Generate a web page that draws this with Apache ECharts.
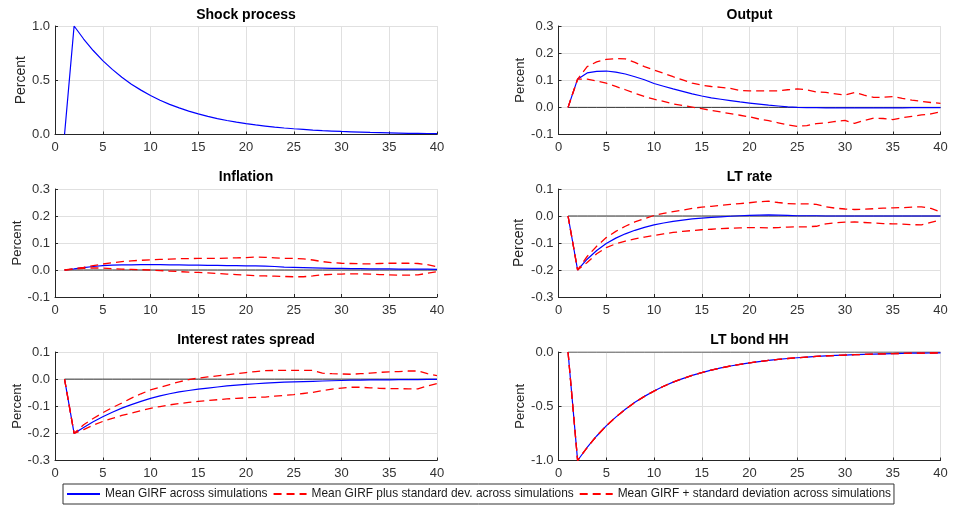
<!DOCTYPE html>
<html>
<head>
<meta charset="utf-8">
<script src="https://cdn.jsdelivr.net/npm/echarts@6/dist/echarts.min.js"></script>
<style>
  html, body { margin: 0; padding: 0; background: #ffffff; }
  #chart { width: 953px; height: 508px; }
</style>
</head>
<body>
<div id="chart"></div>
<script>
// Horizon (quarters after the shock)
const periods = [1,2,3,4,5,6,7,8,9,10,11,12,13,14,15,16,17,18,19,20,21,22,23,24,25,26,27,28,29,30,31,32,33,34,35,36,37,38,39,40];

// Shock process
const shockMean = [0, 1.000, 0.880, 0.774, 0.681, 0.600, 0.528, 0.464, 0.409, 0.360, 0.316, 0.278, 0.245, 0.216, 0.190, 0.167, 0.147, 0.129, 0.114, 0.100, 0.088, 0.078, 0.068, 0.060, 0.053, 0.047, 0.041, 0.036, 0.032, 0.028, 0.025, 0.022, 0.019, 0.017, 0.015, 0.013, 0.011, 0.010, 0.009, 0.008];

// Output
const outputMean  = [0, 0.104, 0.127, 0.133, 0.134, 0.130, 0.123, 0.113, 0.102, 0.088, 0.078, 0.068, 0.059, 0.050, 0.042, 0.035, 0.030, 0.025, 0.020, 0.016, 0.012, 0.008, 0.005, 0.002, 0.000, -0.001, -0.001, -0.002, -0.002, -0.002, -0.002, -0.002, -0.002, -0.002, -0.002, -0.002, -0.001, -0.001, -0.001, -0.001];
const outputUpper = [0, 0.104, 0.150, 0.168, 0.177, 0.180, 0.179, 0.166, 0.150, 0.138, 0.126, 0.113, 0.101, 0.089, 0.082, 0.077, 0.074, 0.070, 0.062, 0.061, 0.061, 0.061, 0.061, 0.065, 0.068, 0.065, 0.057, 0.055, 0.050, 0.045, 0.055, 0.045, 0.037, 0.037, 0.040, 0.033, 0.027, 0.022, 0.018, 0.015];
const outputLower = [0, 0.104, 0.104, 0.097, 0.089, 0.077, 0.065, 0.052, 0.040, 0.030, 0.022, 0.013, 0.007, 0.001, -0.005, -0.011, -0.017, -0.023, -0.029, -0.035, -0.043, -0.049, -0.057, -0.065, -0.070, -0.067, -0.060, -0.057, -0.052, -0.048, -0.059, -0.048, -0.040, -0.041, -0.045, -0.038, -0.033, -0.028, -0.024, -0.016];

// Inflation
const inflationMean  = [0, 0.004, 0.009, 0.013, 0.016, 0.018, 0.019, 0.019, 0.020, 0.020, 0.020, 0.019, 0.019, 0.018, 0.018, 0.017, 0.017, 0.016, 0.016, 0.015, 0.015, 0.014, 0.013, 0.011, 0.010, 0.009, 0.008, 0.007, 0.006, 0.006, 0.005, 0.005, 0.004, 0.004, 0.004, 0.003, 0.003, 0.003, 0.003, 0.002];
const inflationUpper = [0, 0.005, 0.010, 0.016, 0.022, 0.027, 0.031, 0.034, 0.036, 0.038, 0.039, 0.040, 0.042, 0.042, 0.043, 0.043, 0.043, 0.044, 0.045, 0.046, 0.048, 0.047, 0.045, 0.043, 0.043, 0.041, 0.037, 0.031, 0.027, 0.025, 0.024, 0.023, 0.023, 0.024, 0.025, 0.025, 0.025, 0.024, 0.020, 0.012];
const inflationLower = [0, 0.003, 0.006, 0.008, 0.007, 0.005, 0.003, 0.002, 0.001, 0.000, -0.002, -0.004, -0.006, -0.008, -0.009, -0.011, -0.013, -0.015, -0.017, -0.019, -0.021, -0.022, -0.023, -0.024, -0.025, -0.025, -0.022, -0.018, -0.016, -0.015, -0.014, -0.014, -0.015, -0.017, -0.018, -0.019, -0.019, -0.018, -0.012, -0.006];

// LT rate
const ltRateMean  = [0, -0.200, -0.160, -0.128, -0.102, -0.082, -0.066, -0.053, -0.042, -0.033, -0.026, -0.020, -0.015, -0.011, -0.008, -0.005, -0.003, -0.001, 0.001, 0.002, 0.003, 0.004, 0.003, 0.002, 0.001, 0.001, 0.001, 0.000, 0.000, 0.000, 0.000, 0.000, 0.000, 0.000, 0.000, 0.000, 0.000, 0.000, 0.000, 0.000];
const ltRateUpper = [0, -0.200, -0.150, -0.112, -0.080, -0.057, -0.038, -0.022, -0.010, 0.002, 0.010, 0.016, 0.022, 0.028, 0.033, 0.036, 0.039, 0.043, 0.046, 0.049, 0.053, 0.055, 0.050, 0.046, 0.045, 0.045, 0.043, 0.034, 0.029, 0.026, 0.024, 0.025, 0.027, 0.029, 0.030, 0.031, 0.033, 0.034, 0.028, 0.015];
const ltRateLower = [0, -0.200, -0.172, -0.140, -0.117, -0.103, -0.093, -0.085, -0.078, -0.072, -0.066, -0.061, -0.057, -0.054, -0.051, -0.049, -0.047, -0.045, -0.044, -0.043, -0.043, -0.044, -0.043, -0.041, -0.040, -0.040, -0.038, -0.029, -0.025, -0.023, -0.022, -0.024, -0.026, -0.028, -0.029, -0.030, -0.032, -0.033, -0.024, -0.015];

// Interest rates spread
const spreadMean  = [0, -0.200, -0.178, -0.157, -0.139, -0.122, -0.107, -0.094, -0.082, -0.071, -0.062, -0.054, -0.047, -0.042, -0.037, -0.033, -0.029, -0.025, -0.022, -0.019, -0.017, -0.015, -0.013, -0.011, -0.010, -0.009, -0.008, -0.007, -0.006, -0.005, -0.004, -0.004, -0.003, -0.003, -0.003, -0.002, -0.002, -0.002, -0.001, -0.001];
const spreadUpper = [0, -0.200, -0.168, -0.145, -0.124, -0.105, -0.088, -0.070, -0.054, -0.040, -0.030, -0.020, -0.010, -0.002, 0.004, 0.008, 0.012, 0.016, 0.020, 0.024, 0.028, 0.031, 0.032, 0.032, 0.032, 0.032, 0.032, 0.022, 0.020, 0.019, 0.018, 0.020, 0.022, 0.025, 0.027, 0.028, 0.030, 0.030, 0.020, 0.013];
const spreadLower = [0, -0.200, -0.186, -0.170, -0.156, -0.145, -0.134, -0.125, -0.116, -0.108, -0.101, -0.095, -0.090, -0.086, -0.082, -0.079, -0.076, -0.073, -0.071, -0.069, -0.067, -0.066, -0.063, -0.060, -0.057, -0.053, -0.049, -0.042, -0.037, -0.033, -0.030, -0.030, -0.032, -0.034, -0.035, -0.035, -0.036, -0.036, -0.025, -0.016];

// LT bond HH
const bondMean  = [0, -1.000, -0.880, -0.774, -0.681, -0.600, -0.528, -0.464, -0.409, -0.360, -0.316, -0.278, -0.245, -0.216, -0.190, -0.167, -0.147, -0.129, -0.114, -0.100, -0.088, -0.078, -0.068, -0.060, -0.053, -0.047, -0.041, -0.036, -0.032, -0.028, -0.025, -0.022, -0.019, -0.017, -0.015, -0.013, -0.011, -0.010, -0.009, -0.008];
const bondUpper = [0, -1.000, -0.880, -0.774, -0.681, -0.600, -0.528, -0.464, -0.409, -0.360, -0.316, -0.278, -0.245, -0.216, -0.190, -0.167, -0.147, -0.129, -0.114, -0.100, -0.088, -0.078, -0.068, -0.060, -0.053, -0.047, -0.041, -0.036, -0.032, -0.028, -0.025, -0.022, -0.019, -0.017, -0.015, -0.013, -0.011, -0.010, -0.009, -0.008];
const bondLower = [0, -1.000, -0.880, -0.774, -0.681, -0.600, -0.528, -0.464, -0.409, -0.360, -0.316, -0.278, -0.245, -0.216, -0.190, -0.167, -0.147, -0.129, -0.114, -0.100, -0.088, -0.078, -0.068, -0.060, -0.053, -0.047, -0.041, -0.036, -0.032, -0.028, -0.025, -0.022, -0.019, -0.017, -0.015, -0.013, -0.011, -0.010, -0.009, -0.008];

// Axis ticks
const xTicks = { min: 0, max: 40, interval: 5 };

const meanName  = 'Mean GIRF across simulations';
const upperName = 'Mean GIRF plus standard dev. across simulations';
const lowerName = 'Mean GIRF + standard deviation across simulations';

// Panel definitions: title, data, y-range
const panels = [
  { title: 'Shock process',         mean: shockMean,     upper: null,           lower: null,           yMin: 0,    yMax: 1,   yStep: 0.5, zero: false },
  { title: 'Output',                mean: outputMean,    upper: outputUpper,    lower: outputLower,    yMin: -0.1, yMax: 0.3, yStep: 0.1, zero: true },
  { title: 'Inflation',             mean: inflationMean, upper: inflationUpper, lower: inflationLower, yMin: -0.1, yMax: 0.3, yStep: 0.1, zero: true },
  { title: 'LT rate',               mean: ltRateMean,    upper: ltRateUpper,    lower: ltRateLower,    yMin: -0.3, yMax: 0.1, yStep: 0.1, zero: true },
  { title: 'Interest rates spread', mean: spreadMean,    upper: spreadUpper,    lower: spreadLower,    yMin: -0.3, yMax: 0.1, yStep: 0.1, zero: true },
  { title: 'LT bond HH',            mean: bondMean,      upper: bondUpper,      lower: bondLower,      yMin: -1,   yMax: 0,   yStep: 0.5, zero: true }
];

// Layout of the 3x2 panel grid
const colLeft = [55, 558.5];
const plotWidth = 382;
const rowTop = [26, 189, 352];
const rowHeight = [108.5, 108, 108.5];
const titleY = [15, 177.5, 340.5];
const nameSize = [14, 13, 13, 14, 13, 13];
const nameGap = [27, 32, 31.5, 32, 31.5, 32];

const FONT = 'Liberation Sans, Arial, Helvetica, sans-serif';
const AXIS_COLOR = '#262626';
const GRID_COLOR = '#e0e0e0';
const TEXT_COLOR = '#333333';

const grids = [], xAxes = [], yAxes = [], series = [], graphics = [];

panels.forEach((p, i) => {
  const col = i % 2, row = Math.floor(i / 2);
  grids.push({ left: colLeft[col], top: rowTop[row], width: plotWidth, height: rowHeight[row], containLabel: false });

  xAxes.push({
    type: 'value', gridIndex: i, min: xTicks.min, max: xTicks.max, interval: xTicks.interval,
    axisLine: { onZero: false, lineStyle: { color: AXIS_COLOR, width: 1 } },
    axisTick: { show: true, inside: true, length: 3, lineStyle: { color: AXIS_COLOR } },
    axisLabel: { color: TEXT_COLOR, fontSize: 13, fontFamily: FONT, margin: 6.5 },
    splitLine: { show: true, lineStyle: { color: GRID_COLOR, width: 1 } }
  });

  yAxes.push({
    type: 'value', gridIndex: i, min: p.yMin, max: p.yMax, interval: p.yStep,
    name: 'Percent', nameLocation: 'middle', nameRotate: 90, nameGap: nameGap[i],
    nameTextStyle: { color: AXIS_COLOR, fontSize: nameSize[i], fontFamily: FONT },
    axisLine: { show: true, onZero: false, lineStyle: { color: AXIS_COLOR, width: 1 } },
    axisTick: { show: true, inside: true, length: 3, lineStyle: { color: AXIS_COLOR } },
    axisLabel: { color: TEXT_COLOR, fontSize: 13, fontFamily: FONT, margin: 5, formatter: v => v.toFixed(1) },
    splitLine: { show: true, lineStyle: { color: GRID_COLOR, width: 1 } }
  });

  const pts = arr => periods.map((t, k) => [t, arr[k]]);

  if (p.zero) {
    series.push({
      name: 'zero', type: 'line', xAxisIndex: i, yAxisIndex: i, symbol: 'none', silent: true, z: 2,
      data: periods.map(t => [t, 0]),
      lineStyle: { color: '#333333', width: 1 }
    });
  }
  series.push({
    name: meanName, type: 'line', xAxisIndex: i, yAxisIndex: i, symbol: 'none', z: 3,
    data: pts(p.mean), lineStyle: { color: '#0000ff', width: 1.2 }, itemStyle: { color: '#0000ff' }
  });
  if (p.upper) {
    series.push({
      name: upperName, type: 'line', xAxisIndex: i, yAxisIndex: i, symbol: 'none', z: 4,
      data: pts(p.upper), lineStyle: { color: '#ff0000', width: 1.3, type: [8, 5] }, itemStyle: { color: '#ff0000' }
    });
    series.push({
      name: lowerName, type: 'line', xAxisIndex: i, yAxisIndex: i, symbol: 'none', z: 4,
      data: pts(p.lower), lineStyle: { color: '#ff0000', width: 1.3, type: [8, 5] }, itemStyle: { color: '#ff0000' }
    });
  }

  graphics.push({
    type: 'text', x: colLeft[col] + plotWidth / 2, y: titleY[row],
    style: { text: p.title, textAlign: 'center', textVerticalAlign: 'middle',
             font: 'bold 14px ' + FONT, fill: '#000000' }
  });
});

const chart = echarts.init(document.getElementById('chart'), null, { renderer: 'canvas' });
chart.setOption({
  animation: false,
  backgroundColor: '#ffffff',
  textStyle: { fontFamily: FONT },
  grid: grids,
  xAxis: xAxes,
  yAxis: yAxes,
  series: series,
  graphic: graphics,
  legend: {
    data: [meanName, upperName, lowerName],
    left: 63, top: 484,
    orient: 'horizontal',
    itemWidth: 33, itemHeight: 12, itemGap: 5,
    padding: [4, 3, 4, 3],
    borderColor: '#333333', borderWidth: 1, backgroundColor: '#ffffff',
    itemStyle: { opacity: 0 },
    textStyle: { color: '#1a1a1a', fontSize: 11.9, fontFamily: FONT },
    selectedMode: false
  }
});
</script>
</body>
</html>
